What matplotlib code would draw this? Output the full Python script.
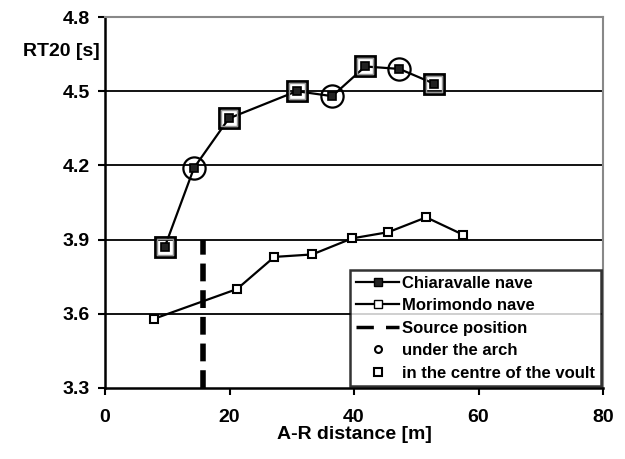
import numpy as np
import matplotlib.pyplot as plt
from matplotlib.lines import Line2D

plt.switch_backend('Agg')
plt.rcParams['font.family'] = ['Liberation Sans', 'DejaVu Sans']
plt.rcParams['font.weight'] = 'bold'

# Chiaravalle nave (A-R distance [m], RT20 [s])
chiaravalle_x = [9.6, 14.3, 19.9, 30.8, 36.5, 41.8, 47.3, 52.9]
chiaravalle_rt = [3.87, 4.19, 4.39, 4.50, 4.48, 4.60, 4.59, 4.53]
# position type for each Chiaravalle point: 'arch' or 'vault'
chiaravalle_pos = ['vault', 'arch', 'vault', 'vault', 'arch', 'vault', 'arch', 'vault']

# Morimondo nave
morimondo_x = [7.9, 21.2, 27.2, 33.3, 39.7, 45.5, 51.6, 57.5]
morimondo_rt = [3.58, 3.70, 3.83, 3.84, 3.905, 3.93, 3.99, 3.92]

source_x = 15.7
source_rt = [3.3, 3.9]

x_ticks = [0, 20, 40, 60, 80]
y_ticks = [3.3, 3.6, 3.9, 4.2, 4.5, 4.8]

fig = plt.figure(figsize=(6.25, 4.59), dpi=100)
ax = fig.add_axes([105 / 625, 1 - 388 / 459, 498 / 625, 371 / 459])

# horizontal grid lines
for yv in y_ticks[1:-1]:
    ax.axhline(yv, color='black', lw=1.3, zorder=1)

# source position
ax.plot([source_x, source_x], source_rt, color='black', lw=4, dashes=(3.2, 1.6), zorder=2)

# Morimondo
ax.plot(morimondo_x, morimondo_rt, color='black', lw=1.6, marker='s', ms=6,
        mfc='white', mec='black', mew=1.5, zorder=3)

# Chiaravalle
ax.plot(chiaravalle_x, chiaravalle_rt, color='black', lw=1.6, marker='s', ms=6,
        mfc='#222222', mec='black', mew=1.2, zorder=3)
for xv, yv, p in zip(chiaravalle_x, chiaravalle_rt, chiaravalle_pos):
    if p == 'arch':
        ax.plot(xv, yv, marker='o', ms=16, mfc='none', mec='black', mew=1.6, zorder=4)
    else:
        ax.plot(xv, yv, marker='s', ms=15, mfc='none', mec='black', mew=2.0, zorder=4)
        ax.plot(xv, yv, marker='s', ms=12, mfc='none', mec='#999999', mew=1.0, zorder=4)

ax.set_xlim(0, 80)
ax.set_ylim(3.3, 4.8)
ax.set_xticks(x_ticks)
ax.set_yticks(y_ticks)
ax.set_yticklabels([f'{v:.1f}' for v in y_ticks])
ax.tick_params(axis='both', direction='out', length=5, width=1.5, labelsize=14)
ax.tick_params(axis='y', pad=6)
ax.tick_params(axis='x', pad=10)

for s in ['left', 'bottom']:
    ax.spines[s].set_color('black')
    ax.spines[s].set_linewidth(1.8)
for s in ['top', 'right']:
    ax.spines[s].set_color('#888888')
    ax.spines[s].set_linewidth(1.5)

ax.set_xlabel('A-R distance [m]', fontsize=14, fontweight='bold', labelpad=0)
fig.text(100 / 625, 1 - 52 / 459, 'RT20 [s]', fontsize=14, fontweight='bold', va='center', ha='right')

handles = [
    Line2D([], [], color='black', lw=1.6, marker='s', ms=6, mfc='#222222', mec='black'),
    Line2D([], [], color='black', lw=1.6, marker='s', ms=6, mfc='white', mec='black'),
    Line2D([], [], color='black', lw=2.5, dashes=(5, 3.5)),
    Line2D([], [], ls='none', marker='o', ms=5, mfc='none', mec='black', mew=1.5),
    Line2D([], [], ls='none', marker='s', ms=6, mfc='none', mec='black', mew=1.5),
]
labels = ['Chiaravalle nave', 'Morimondo nave', 'Source position',
          'under the arch', 'in the centre of the voult']
leg = ax.legend(handles, labels, loc='lower right', bbox_to_anchor=(1.0, 0.0),
                prop={'size': 12, 'weight': 'bold'}, frameon=True, fancybox=False,
                handlelength=2.6, handletextpad=0.2, labelspacing=0.45,
                borderpad=0.35, borderaxespad=0.1)
leg.get_frame().set_edgecolor('black')
leg.get_frame().set_linewidth(1.8)
leg.set_zorder(5)

fig.savefig('out.png', dpi=100)
